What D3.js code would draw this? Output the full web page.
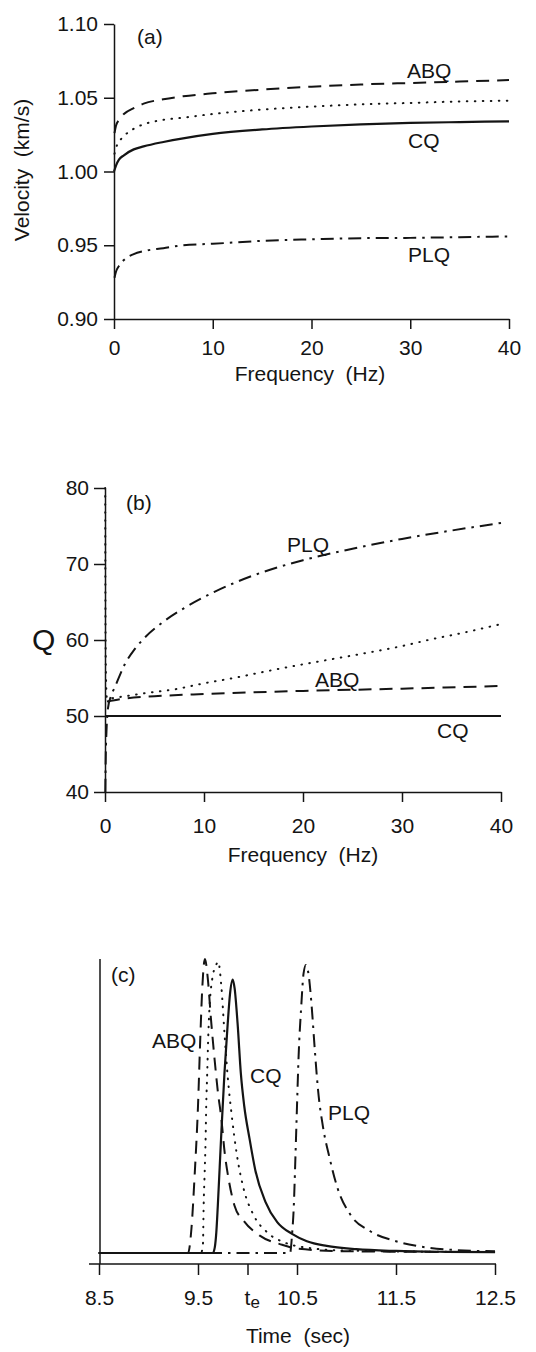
<!DOCTYPE html>
<html>
<head>
<meta charset="utf-8">
<script src="https://cdn.jsdelivr.net/npm/d3@7"></script>
<style>
  body { margin: 0; background: #fff; }
  svg { display: block; }
</style>
</head>
<body>
<svg id="fig" width="536" height="1352"></svg>
<script>
// ---------- (a) phase velocity vs frequency ----------
const velFreq  = [0.05, 0.2, 0.5, 1, 2, 3, 5, 7, 10, 15, 20, 25, 30, 35, 40];
const velCQ    = [1.001, 1.004, 1.008, 1.011, 1.015, 1.017, 1.020, 1.0225, 1.0255, 1.0285, 1.0305, 1.032, 1.033, 1.0335, 1.034];
const velDot   = [1.012, 1.016, 1.020, 1.024, 1.029, 1.032, 1.035, 1.0365, 1.039, 1.042, 1.044, 1.0455, 1.0465, 1.0475, 1.048];
const velABQ   = [1.026, 1.031, 1.035, 1.039, 1.043, 1.046, 1.049, 1.051, 1.053, 1.0555, 1.0575, 1.059, 1.060, 1.061, 1.062];
const velPLQ   = [0.928, 0.932, 0.936, 0.940, 0.944, 0.946, 0.948, 0.950, 0.951, 0.953, 0.954, 0.9548, 0.955, 0.9555, 0.956];
const velTicks = [0.90, 0.95, 1.00, 1.05, 1.10];
const freqTicks = [0, 10, 20, 30, 40];

// ---------- (b) Q vs frequency ----------
const qCQFreq  = [0, 40];
const qCQ      = [50, 50];
const qABQFreq = [0.2, 2, 5, 10, 20, 30, 40];
const qABQ     = [51.9, 52.3, 52.6, 52.9, 53.3, 53.6, 53.95];
const qDotFreq = [0.02, 0.05, 0.1, 0.2, 2, 4, 7, 10, 13, 16, 20, 23, 26, 30, 33, 36, 40];
const qDot     = [80, 62, 55, 52.3, 52.6, 53.0, 53.5, 54.3, 55.0, 55.8, 56.8, 57.5, 58.2, 59.2, 60.1, 60.9, 62.1];
const qPLQFreq = [0.03, 0.08, 0.15, 0.3, 0.6, 1, 2, 3, 4, 6, 8, 11, 15, 20, 25, 30, 35, 40];
const qPLQ     = [40, 45, 48, 51, 52.6, 53.8, 56.8, 58.8, 60.3, 62.5, 64.2, 66.3, 68.5, 70.5, 72.0, 73.3, 74.4, 75.4];
const qTicks   = [40, 50, 60, 70, 80];

// ---------- (c) pulse shapes vs time ----------
const pCQTime  = [8.5, 9.65, 9.67, 9.685, 9.70, 9.733, 9.767, 9.80, 9.823, 9.85, 9.87, 9.90, 9.933, 9.967, 10.02, 10.08, 10.18, 10.30, 10.45, 10.60, 10.80, 11.10, 11.50, 12.00, 12.50];
const pCQ      = [0, 0, 0.02, 0.07, 0.16, 0.39, 0.61, 0.78, 0.88, 0.93, 0.90, 0.78, 0.61, 0.50, 0.39, 0.28, 0.175, 0.105, 0.065, 0.04, 0.024, 0.013, 0.007, 0.004, 0.003];
const pABQTime = [8.5, 9.40, 9.433, 9.467, 9.50, 9.523, 9.543, 9.57, 9.60, 9.63, 9.67, 9.70, 9.735, 9.77, 9.81, 9.87, 9.96, 10.12, 10.35, 10.50, 11.0, 12.5];
const pABQ     = [0, 0, 0.08, 0.27, 0.50, 0.73, 0.90, 1.0, 0.93, 0.80, 0.65, 0.55, 0.46, 0.34, 0.25, 0.16, 0.11, 0.06, 0.028, 0.015, 0.006, 0.003];
const pDotTime = [8.5, 9.53, 9.55, 9.557, 9.567, 9.577, 9.583, 9.593, 9.603, 9.617, 9.643, 9.683, 9.705, 9.735, 9.767, 9.80, 9.84, 9.89, 9.96, 10.06, 10.20, 10.38, 10.60, 11.0, 12.5];
const pDot     = [0, 0, 0.03, 0.16, 0.27, 0.39, 0.50, 0.61, 0.73, 0.84, 0.93, 0.98, 0.99, 0.91, 0.75, 0.60, 0.47, 0.34, 0.22, 0.13, 0.07, 0.035, 0.018, 0.008, 0.003];
const pPLQTime = [8.5, 10.43, 10.45, 10.467, 10.484, 10.50, 10.516, 10.543, 10.566, 10.59, 10.62, 10.648, 10.68, 10.713, 10.762, 10.828, 10.91, 11.04, 11.24, 11.50, 11.73, 12.06, 12.50];
const pPLQ     = [0, 0, 0.063, 0.154, 0.325, 0.50, 0.667, 0.84, 0.95, 0.98, 0.94, 0.84, 0.69, 0.553, 0.43, 0.325, 0.22, 0.13, 0.074, 0.04, 0.023, 0.011, 0.006];
const timeTicks  = [8.5, 9.5, 10.0, 10.5, 11.5, 12.5];
const timeLabels = ["8.5", "9.5", "te", "10.5", "11.5", "12.5"];

// ---------- shared styling ----------
const FONT = "'Liberation Sans', Arial, Helvetica, sans-serif";
const INK = "#141414";
const DASH = { solid: null, dashed: "13,8", dotted: "0.6,7.4", dashdot: "13,6,2.5,6" };

const svg = d3.select("#fig");

function styleAxis(g, size) {
  g.attr("font-family", FONT).attr("font-size", size);
  g.selectAll(".domain, .tick line").attr("stroke", INK).attr("stroke-width", 1.5);
  g.selectAll("text").attr("fill", INK);
}

function drawCurve(g, xs, ys, x, y, kind) {
  const pts = xs.map((v, i) => [v, ys[i]]);
  const line = d3.line().x(d => x(d[0])).y(d => y(d[1])).curve(d3.curveMonotoneX);
  g.append("path")
    .attr("d", line(pts))
    .attr("fill", "none")
    .attr("stroke", INK)
    .attr("stroke-width", kind === "solid" ? 2.2 : 2)
    .attr("stroke-linecap", kind === "dotted" ? "round" : "butt")
    .attr("stroke-dasharray", DASH[kind]);
}

function label(g, txt, x, y, size) {
  g.append("text").attr("x", x).attr("y", y)
    .attr("font-family", FONT).attr("font-size", size || 21)
    .attr("fill", INK).text(txt);
}

// ---------- panel (a) ----------
{
  const g = svg.append("g");
  const x = d3.scaleLinear().domain([0, 40]).range([114, 509]);
  const y = d3.scaleLinear().domain([0.90, 1.10]).range([319, 24]);

  const ax = g.append("g").attr("transform", `translate(0,${y(0.90)})`)
    .call(d3.axisBottom(x).tickValues(freqTicks).tickSize(10).tickSizeOuter(0).tickPadding(11));
  styleAxis(ax, 21);
  const ay = g.append("g").attr("transform", `translate(${x(0)},0)`)
    .call(d3.axisLeft(y).tickValues(velTicks).tickFormat(d3.format(".2f")).tickSize(10).tickSizeOuter(0).tickPadding(6));
  styleAxis(ay, 21);

  drawCurve(g, velFreq, velABQ, x, y, "dashed");
  drawCurve(g, velFreq, velDot, x, y, "dotted");
  drawCurve(g, [0].concat(velFreq), [1.000].concat(velCQ), x, y, "solid");
  drawCurve(g, velFreq, velPLQ, x, y, "dashdot");

  g.append("text").attr("transform", "translate(29,170) rotate(-90)")
    .attr("text-anchor", "middle").attr("font-family", FONT).attr("font-size", 21)
    .attr("fill", INK).text("Velocity\u00a0\u00a0(km/s)");
  g.append("text").attr("x", 310).attr("y", 381).attr("text-anchor", "middle")
    .attr("font-family", FONT).attr("font-size", 21).attr("fill", INK)
    .text("Frequency\u00a0\u00a0(Hz)");

  label(g, "(a)", 137, 44, 21);
  label(g, "ABQ", 407, 78);
  label(g, "CQ", 408, 148);
  label(g, "PLQ", 408, 262);
}

// ---------- panel (b) ----------
{
  const g = svg.append("g");
  const x = d3.scaleLinear().domain([0, 40]).range([105, 501]);
  const y = d3.scaleLinear().domain([40, 80]).range([792, 488]);

  const ax = g.append("g").attr("transform", `translate(0,${y(40)})`)
    .call(d3.axisBottom(x).tickValues(freqTicks).tickSize(10).tickSizeOuter(0).tickPadding(16));
  styleAxis(ax, 21);
  const ay = g.append("g").attr("transform", `translate(${x(0)},0)`)
    .call(d3.axisLeft(y).tickValues(qTicks).tickSize(11).tickSizeOuter(0).tickPadding(5));
  styleAxis(ay, 21);

  drawCurve(g, qCQFreq, qCQ, x, y, "solid");
  drawCurve(g, qABQFreq, qABQ, x, y, "dashed");
  drawCurve(g, qDotFreq, qDot, x, y, "dotted");
  drawCurve(g, qPLQFreq, qPLQ, x, y, "dashdot");

  g.append("text").attr("x", 32).attr("y", 650)
    .attr("font-family", FONT).attr("font-size", 30).attr("fill", INK).text("Q");
  g.append("text").attr("x", 303).attr("y", 862).attr("text-anchor", "middle")
    .attr("font-family", FONT).attr("font-size", 21).attr("fill", INK)
    .text("Frequency\u00a0\u00a0(Hz)");

  label(g, "(b)", 126, 510, 21);
  label(g, "PLQ", 287, 552);
  label(g, "ABQ", 315, 687);
  label(g, "CQ", 437, 738);
}

// ---------- panel (c) ----------
{
  const g = svg.append("g");
  const x = d3.scaleLinear().domain([8.5, 12.5]).range([99, 495]);
  const y = d3.scaleLinear().domain([0, 1]).range([1253, 959]);
  const axisY = 1264;

  const ax = g.append("g").attr("transform", `translate(0,${axisY})`)
    .call(d3.axisBottom(x).tickValues(timeTicks)
      .tickFormat((d, i) => timeLabels[i]).tickSize(11).tickSizeOuter(0).tickPadding(15));
  styleAxis(ax, 21);
  ax.select(".domain").remove();
  // the time axis runs a little past the amplitude axis on the left
  ax.append("line").attr("x1", x(8.5) - 10).attr("x2", x(12.5) + 1)
    .attr("stroke", INK).attr("stroke-width", 1.5);
  // subscripted t_e label at the 10.0 s tick
  ax.selectAll(".tick text").filter(d => d === 10.0).each(function () {
    const t = d3.select(this);
    t.text("t");
    t.append("tspan").attr("dy", "0.2em").attr("font-size", 17).text("e");
    t.attr("dx", "0.2em");
  });

  g.append("line").attr("x1", x(8.5) + 1).attr("x2", x(8.5) + 1)
    .attr("y1", y(1)).attr("y2", axisY)
    .attr("stroke", INK).attr("stroke-width", 1.5);

  drawCurve(g, pABQTime, pABQ, x, y, "dashed");
  drawCurve(g, pDotTime, pDot, x, y, "dotted");
  drawCurve(g, pPLQTime, pPLQ, x, y, "dashdot");
  drawCurve(g, pCQTime, pCQ, x, y, "solid");

  g.append("text").attr("x", 298).attr("y", 1343).attr("text-anchor", "middle")
    .attr("font-family", FONT).attr("font-size", 21).attr("fill", INK)
    .text("Time\u00a0\u00a0(sec)");

  label(g, "(c)", 111, 982, 21);
  label(g, "ABQ", 152, 1048);
  label(g, "CQ", 250, 1083);
  label(g, "PLQ", 328, 1120);
}
</script>
</body>
</html>
